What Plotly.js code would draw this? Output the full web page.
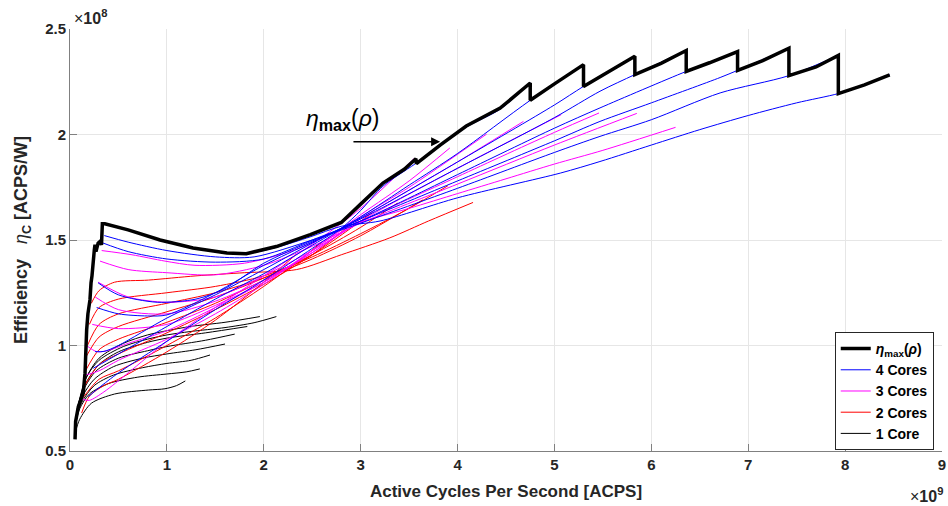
<!DOCTYPE html>
<html>
<head>
<meta charset="utf-8">
<script src="https://cdn.plot.ly/plotly-3.0.1.min.js"></script>
<style>html,body{margin:0;padding:0;background:#fff;}#chart{width:948px;height:506px;}</style>
</head>
<body>
<div id="chart"></div>
<script>
// Units: x in 1e9 ACPS, y in 1e8 ACPS/W
// 1 Core curves
const core1X = [
  [0.052,0.1,0.22,0.46,0.81,0.98,1.1,1.19],
  [0.055,0.1,0.2,0.4,0.7,1.0,1.2,1.34],
  [0.06,0.12,0.25,0.45,0.75,1.0,1.25,1.445],
  [0.065,0.13,0.25,0.45,0.75,1.0,1.3,1.6],
  [0.07,0.14,0.27,0.5,0.8,1.0,1.4,1.7],
  [0.075,0.15,0.3,0.5,0.8,1.0,1.4,1.83],
  [0.08,0.16,0.3,0.55,0.8,1.0,1.24,1.6,1.96],
  [0.09,0.17,0.3,0.55,0.8,1.0,1.24,1.6,1.9,2.13]
];
const core1Y = [
  [0.584,0.65,0.726,0.77,0.789,0.795,0.81,0.832],
  [0.62,0.70,0.77,0.82,0.85,0.865,0.875,0.889],
  [0.65,0.73,0.81,0.86,0.895,0.915,0.93,0.955],
  [0.67,0.76,0.84,0.90,0.94,0.96,0.98,1.007],
  [0.69,0.79,0.88,0.94,0.975,0.995,1.025,1.054],
  [0.70,0.81,0.91,0.97,1.015,1.035,1.06,1.09],
  [0.71,0.84,0.94,1.01,1.05,1.07,1.09,1.11,1.137],
  [0.72,0.85,0.93,0.995,1.03,1.05,1.066,1.085,1.108,1.137]
];
// 2 Cores curves
const core2X = [
  [0.12,0.2,0.35,0.5,1.0,1.5,2.0,2.33],
  [0.13,0.3,0.5,1.0,1.5,2.0,2.3,2.6],
  [0.14,0.3,0.5,1.0,1.5,2.0,2.5,2.86],
  [0.16,0.3,0.5,1.0,1.5,2.0,2.5,3.12],
  [0.17,0.3,0.5,1.0,1.5,2.0,2.5,3.0,3.38],
  [0.18,0.3,0.5,1.0,1.5,2.0,2.5,3.0,3.64],
  [0.2,0.3,0.5,1.0,1.5,2.0,2.5,3.0,3.5,3.9],
  [0.22,0.3,0.46,0.81,1.3,1.8,2.34,2.8,3.3,3.7,4.16]
];
const core2Y = [
  [0.68,0.76,0.81,0.84,0.97,1.12,1.30,1.43],
  [0.75,0.84,0.88,1.0,1.13,1.28,1.38,1.49],
  [0.80,0.91,0.96,1.06,1.17,1.29,1.43,1.56],
  [0.88,0.98,1.03,1.11,1.20,1.31,1.43,1.63],
  [0.95,1.04,1.09,1.16,1.23,1.32,1.43,1.56,1.675],
  [1.0,1.10,1.15,1.20,1.25,1.32,1.41,1.52,1.69],
  [1.10,1.18,1.22,1.25,1.28,1.33,1.42,1.53,1.65,1.757],
  [1.2,1.26,1.30,1.31,1.33,1.345,1.36,1.43,1.51,1.59,1.678]
];
// 3 Cores curves
const core3X = [
  [0.13,0.2,0.35,0.6,1.0,1.5,2.0,2.5,3.0,3.55],
  [0.16,0.3,0.5,1.0,1.5,2.0,2.5,3.0,3.5,3.92],
  [0.17,0.275,0.38,0.6,1.0,1.5,2.0,2.5,3.0,3.5,4.3],
  [0.23,0.5,1.0,1.5,2.0,2.5,3.0,4.0,4.68],
  [0.26,0.5,1.0,1.5,2.0,2.5,3.0,4.0,5.07],
  [0.29,0.6,1.0,1.5,2.0,2.5,3.0,4.0,5.0,5.46],
  [0.31,0.6,1.0,1.5,2.0,2.5,3.0,4.0,5.0,5.85],
  [0.327,0.64,0.98,1.29,1.8,2.3,2.9,3.5,4.0,4.5,5.0,5.5,6.25]
];
const core3Y = [
  [0.745,0.74,0.78,0.87,1.02,1.18,1.33,1.48,1.65,1.885],
  [0.86,0.88,0.93,1.03,1.15,1.29,1.45,1.62,1.78,1.936],
  [1.0,0.971,0.975,1.01,1.07,1.18,1.30,1.45,1.61,1.75,2.002],
  [1.10,1.08,1.10,1.19,1.30,1.44,1.60,1.87,2.062],
  [1.23,1.17,1.15,1.21,1.31,1.44,1.59,1.84,2.094],
  [1.30,1.23,1.205,1.23,1.33,1.45,1.585,1.80,2.01,2.102],
  [1.40,1.36,1.345,1.335,1.38,1.47,1.58,1.765,1.95,2.10],
  [1.45,1.43,1.40,1.38,1.39,1.45,1.57,1.65,1.72,1.79,1.86,1.925,2.034]
];
// 4 Cores curves
const core4X = [
  [0.19,0.3,0.5,1.0,1.5,2.0,2.5,2.8,3.0,3.23,3.56,3.82,4.09,4.44,4.75],
  [0.24,0.5,1.0,1.5,2.0,2.5,3.0,3.5,4.0,4.75,5.30],
  [0.258,0.35,0.5,1.0,1.5,2.0,2.5,3.0,4.0,5.0,5.30,5.83],
  [0.275,0.5,0.8,1.0,1.5,2.0,2.5,3.0,4.0,5.0,5.47,5.83,6.36],
  [0.29,0.5,0.9,1.3,1.6,2.0,2.5,3.0,4.0,5.0,5.47,6.36,6.89],
  [0.327,0.6,1.0,1.5,2.0,2.5,3.0,4.0,5.0,5.47,6.0,6.71,6.89,7.42],
  [0.354,0.6,1.0,1.5,1.9,2.5,3.0,4.0,5.0,5.47,6.0,6.71,7.42,7.93],
  [0.34,0.6,0.93,1.27,1.62,1.82,2.13,2.48,2.8,3.2,4.0,5.06,5.47,6.0,6.5,7.0,7.5,7.93,8.2,8.46]
];
const core4Y = [
  [0.758,0.80,0.87,1.02,1.17,1.31,1.46,1.555,1.64,1.755,1.86,1.945,2.035,2.12,2.244],
  [0.892,0.96,1.09,1.22,1.34,1.475,1.61,1.76,1.91,2.162,2.331],
  [0.971,0.972,1.0,1.13,1.24,1.36,1.485,1.605,1.87,2.14,2.228,2.371],
  [1.18,1.15,1.14,1.145,1.25,1.38,1.49,1.60,1.84,2.08,2.205,2.284,2.398],
  [1.297,1.24,1.205,1.22,1.27,1.39,1.495,1.59,1.81,2.03,2.126,2.299,2.393],
  [1.488,1.445,1.41,1.395,1.41,1.50,1.59,1.78,1.97,2.062,2.15,2.27,2.304,2.409],
  [1.521,1.49,1.45,1.42,1.42,1.50,1.58,1.745,1.915,1.991,2.07,2.197,2.279,2.375],
  [1.577,1.548,1.50,1.462,1.438,1.435,1.465,1.515,1.565,1.59,1.70,1.817,1.872,1.95,2.023,2.09,2.15,2.194,2.235,2.283]
];
// Envelope eta_max(rho)
const etaMaxX = [0.052,0.058,0.086,0.137,0.155,0.162,0.172,0.185,0.206,0.217,0.227,0.251,0.258,0.268,0.29,0.31,0.325,0.334,0.36,0.6,0.93,1.27,1.62,1.82,2.13,2.48,2.8,3.0,3.23,3.45,3.57,3.575,3.82,4.09,4.44,4.75,4.75,5.0,5.30,5.30,5.55,5.83,5.83,6.1,6.36,6.36,6.6,6.89,6.89,7.15,7.42,7.42,7.7,7.93,7.93,8.2,8.46];
const etaMaxY = [0.555,0.64,0.71,0.774,0.869,0.979,1.074,1.15,1.216,1.296,1.33,1.453,1.477,1.445,1.485,1.493,1.477,1.577,1.577,1.548,1.50,1.462,1.438,1.435,1.469,1.525,1.583,1.67,1.77,1.835,1.885,1.862,1.95,2.04,2.125,2.244,2.162,2.24,2.331,2.228,2.295,2.371,2.284,2.337,2.398,2.299,2.34,2.393,2.304,2.35,2.409,2.279,2.32,2.375,2.194,2.235,2.283];

const families = [
  {name:'1 Core', xs:core1X, ys:core1Y, color:'#000000', rank:5},
  {name:'2 Cores', xs:core2X, ys:core2Y, color:'#ff0000', rank:4},
  {name:'3 Cores', xs:core3X, ys:core3Y, color:'#ff00ff', rank:3},
  {name:'4 Cores', xs:core4X, ys:core4Y, color:'#0000ff', rank:2}
];
const traces = [];
families.forEach(f => {
  f.xs.forEach((xa, i) => {
    traces.push({
      x: xa, y: f.ys[i], type:'scatter', mode:'lines',
      line:{color:f.color, width:1, shape:'spline', smoothing:0.8},
      name:f.name, legendgroup:f.name, showlegend:i===0, legendrank:f.rank,
      hoverinfo:'skip'
    });
  });
});
traces.push({
  x: etaMaxX, y: etaMaxY, type:'scatter', mode:'lines',
  line:{color:'#000000', width:3.5},
  name:'<i>η</i><sub>max</sub>(<i>ρ</i>)', legendrank:1, hoverinfo:'skip'
});

const FONT = 'Liberation Sans, Arial, Helvetica, sans-serif';
const layout = {
  width:948, height:506,
  margin:{l:70, r:6, t:29, b:55},
  paper_bgcolor:'#ffffff', plot_bgcolor:'#ffffff',
  font:{family:FONT, color:'#262626'},
  showlegend:true,
  legend:{x:0.877, y:0.282, xanchor:'left', yanchor:'top', bgcolor:'#ffffff',
    bordercolor:'#262626', borderwidth:1, font:{size:14, weight:'bold', color:'#000'},
    tracegroupgap:0},
  xaxis:{range:[0,9], tick0:0, dtick:1, showgrid:true, gridcolor:'#e6e6e6', gridwidth:1,
    showline:true, linecolor:'#808080', linewidth:1, ticks:'inside', ticklen:7, tickcolor:'#808080',
    zeroline:false, tickfont:{size:15, weight:'bold', color:'#262626'},
    title:{text:'Active Cycles Per Second [ACPS]', font:{size:17, weight:'bold', color:'#262626'}, standoff:13}},
  yaxis:{range:[0.5,2.5], tick0:0.5, dtick:0.5, showgrid:true, gridcolor:'#e6e6e6', gridwidth:1,
    showline:true, linecolor:'#808080', linewidth:1, ticks:'inside', ticklen:7, tickcolor:'#808080',
    zeroline:false, tickfont:{size:15, weight:'bold', color:'#262626'},
    title:{text:'Efficiency   <span style="font-weight:normal"><i>η</i></span><sub>C</sub> [ACPS/W]', font:{size:18, weight:'bold', color:'#262626'}, standoff:12}},
  annotations:[
    {xref:'paper', yref:'paper', x:0.002, y:1.0, xanchor:'left', yanchor:'bottom', showarrow:false,
      text:'<span style="font-weight:normal">×</span>10<sup>8</sup>', font:{size:16, weight:'bold', color:'#262626'}},
    {xref:'paper', yref:'paper', x:1.004, y:-0.105, xanchor:'right', yanchor:'middle', showarrow:false,
      text:'<span style="font-weight:normal">×</span>10<sup>9</sup>', font:{size:16, weight:'bold', color:'#262626'}},
    {xref:'x', yref:'y', x:3.82, y:1.966, axref:'x', ayref:'y', ax:2.91, ay:1.966, showarrow:true,
      arrowhead:2, arrowsize:1.2, arrowwidth:1.5, arrowcolor:'#000', text:''},
    {xref:'x', yref:'y', x:2.82, y:2.07, showarrow:false,
      text:'<i>η</i><sub><b>max</b></sub>(<i>ρ</i>)', font:{size:23, color:'#000'}}
  ]
};
Plotly.newPlot('chart', traces, layout, {staticPlot:true, displayModeBar:false});
</script>
</body>
</html>
